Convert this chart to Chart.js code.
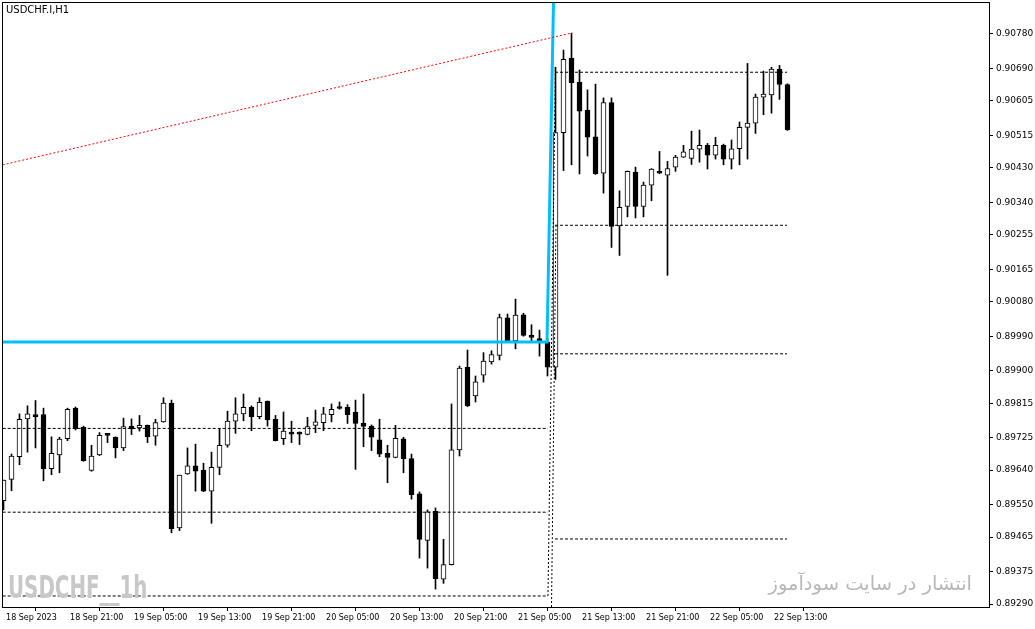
<!DOCTYPE html>
<html lang="en">
<head>
<meta charset="UTF-8">
<title>USDCHF.I,H1</title>
<script src="https://cdn.jsdelivr.net/npm/chart.js"></script>
<style>
  body { margin: 0; background: #fff; }
  #wrap { position: relative; width: 1035px; height: 629px; }
  .txt { position: absolute; white-space: nowrap; }
</style>
</head>
<body>
<div id="wrap">
  <canvas id="chart" width="1035" height="629"></canvas>
  <div class="txt" style="left:6px;top:4px;font:10px 'DejaVu Sans';color:#000">USDCHF.I,H1</div>
  <div class="txt" style="left:8px;top:568px;font:bold 32px 'DejaVu Sans';color:#c8c8c8;transform:scaleX(0.62);transform-origin:left top">USDCHF__1h</div>
  <div class="txt" dir="rtl" style="right:63px;top:572px;font:19.5px 'DejaVu Sans';color:#b8b8b8">انتشار در سایت سودآموز</div>
</div>
<script>
// hourly bars, 18 Sep 13:00 -> 22 Sep 15:00
const opens = [
  0.89560, 0.89616, 0.89675, 0.89774, 0.89785, 0.89785, 0.89644, 0.89680, 0.89722, 0.89802,
  0.89752, 0.89639, 0.89680, 0.89734, 0.89726, 0.89698, 0.89755, 0.89750, 0.89757, 0.89729,
  0.89766, 0.89815, 0.89489, 0.89630, 0.89651, 0.89640, 0.89585, 0.89647, 0.89705, 0.89768,
  0.89787, 0.89804, 0.89780, 0.89820, 0.89773, 0.89722, 0.89735, 0.89735, 0.89733, 0.89757,
  0.89764, 0.89785, 0.89804, 0.89804, 0.89792, 0.89762, 0.89755, 0.89719, 0.89684, 0.89673,
  0.89722, 0.89670, 0.89578, 0.89456, 0.89532, 0.89355, 0.89393, 0.89693, 0.89909, 0.89834,
  0.89888, 0.89923, 0.89940, 0.90038, 0.89978, 0.90046, 0.89992, 0.89984, 0.89975, 0.89909,
  0.90522, 0.90717, 0.90654, 0.90581, 0.90511, 0.90416, 0.90601, 0.90278, 0.90329, 0.90419,
  0.90329, 0.90385, 0.90421, 0.90411, 0.90432, 0.90458, 0.90455, 0.90479, 0.90489, 0.90463,
  0.90489, 0.90453, 0.90480, 0.90536, 0.90547, 0.90615, 0.90621, 0.90688, 0.90648
];
const highs = [
  0.89614, 0.89682, 0.89787, 0.89808, 0.89822, 0.89802, 0.89727, 0.89726, 0.89802, 0.89805,
  0.89755, 0.89705, 0.89738, 0.89735, 0.89727, 0.89776, 0.89774, 0.89783, 0.89758, 0.89773,
  0.89829, 0.89823, 0.89627, 0.89698, 0.89708, 0.89658, 0.89687, 0.89748, 0.89794, 0.89829,
  0.89839, 0.89808, 0.89829, 0.89821, 0.89783, 0.89792, 0.89768, 0.89740, 0.89778, 0.89797,
  0.89804, 0.89813, 0.89818, 0.89811, 0.89823, 0.89839, 0.89758, 0.89773, 0.89705, 0.89757,
  0.89726, 0.89682, 0.89583, 0.89536, 0.89541, 0.89459, 0.89813, 0.89912, 0.89954, 0.89886,
  0.89947, 0.89952, 0.90048, 0.90048, 0.90087, 0.90050, 0.90020, 0.90006, 0.89985, 0.90693,
  0.90738, 0.90782, 0.90686, 0.90634, 0.90649, 0.90613, 0.90613, 0.90370, 0.90422, 0.90432,
  0.90393, 0.90428, 0.90473, 0.90447, 0.90463, 0.90489, 0.90526, 0.90529, 0.90494, 0.90510,
  0.90492, 0.90503, 0.90550, 0.90703, 0.90623, 0.90683, 0.90693, 0.90698, 0.90650
];
const lows = [
  0.89536, 0.89586, 0.89654, 0.89687, 0.89698, 0.89612, 0.89628, 0.89633, 0.89717, 0.89745,
  0.89663, 0.89637, 0.89678, 0.89712, 0.89672, 0.89691, 0.89733, 0.89742, 0.89712, 0.89705,
  0.89765, 0.89476, 0.89482, 0.89629, 0.89585, 0.89584, 0.89501, 0.89628, 0.89700, 0.89736,
  0.89769, 0.89743, 0.89774, 0.89755, 0.89716, 0.89707, 0.89712, 0.89707, 0.89732, 0.89738,
  0.89743, 0.89766, 0.89799, 0.89762, 0.89642, 0.89701, 0.89691, 0.89675, 0.89607, 0.89672,
  0.89633, 0.89564, 0.89410, 0.89384, 0.89329, 0.89344, 0.89392, 0.89677, 0.89806, 0.89818,
  0.89870, 0.89917, 0.89928, 0.89977, 0.89957, 0.89990, 0.89978, 0.89938, 0.89886, 0.89877,
  0.90423, 0.90438, 0.90414, 0.90461, 0.90413, 0.90364, 0.90222, 0.90201, 0.90302, 0.90299,
  0.90302, 0.90344, 0.90415, 0.90149, 0.90421, 0.90457, 0.90439, 0.90445, 0.90427, 0.90453,
  0.90438, 0.90427, 0.90438, 0.90453, 0.90520, 0.90569, 0.90573, 0.90609, 0.90528
];
const closes = [
  0.89614, 0.89677, 0.89773, 0.89787, 0.89780, 0.89644, 0.89684, 0.89721, 0.89799, 0.89748,
  0.89665, 0.89677, 0.89731, 0.89731, 0.89698, 0.89754, 0.89748, 0.89757, 0.89727, 0.89764,
  0.89815, 0.89487, 0.89627, 0.89651, 0.89637, 0.89585, 0.89647, 0.89705, 0.89768, 0.89787,
  0.89804, 0.89780, 0.89817, 0.89771, 0.89717, 0.89742, 0.89734, 0.89734, 0.89754, 0.89766,
  0.89787, 0.89799, 0.89801, 0.89785, 0.89762, 0.89754, 0.89726, 0.89682, 0.89673, 0.89723,
  0.89670, 0.89576, 0.89459, 0.89531, 0.89356, 0.89393, 0.89693, 0.89907, 0.89808, 0.89871,
  0.89925, 0.89942, 0.90039, 0.89978, 0.90045, 0.89992, 0.89987, 0.89978, 0.89909, 0.90522,
  0.90714, 0.90653, 0.90578, 0.90510, 0.90414, 0.90601, 0.90277, 0.90327, 0.90421, 0.90329,
  0.90385, 0.90427, 0.90416, 0.90428, 0.90458, 0.90472, 0.90479, 0.90489, 0.90463, 0.90489,
  0.90453, 0.90480, 0.90536, 0.90547, 0.90615, 0.90623, 0.90688, 0.90648, 0.90529
];

const xTickIdx = [0, 8, 16, 24, 32, 40, 48, 56, 64, 72, 80, 88, 96];
const xTickLabels = ['18 Sep 2023', '18 Sep 21:00', '19 Sep 05:00', '19 Sep 13:00', '19 Sep 21:00',
  '20 Sep 05:00', '20 Sep 13:00', '20 Sep 21:00', '21 Sep 05:00', '21 Sep 13:00',
  '21 Sep 21:00', '22 Sep 05:00', '22 Sep 13:00'];
const yTicks = [0.90780, 0.90690, 0.90605, 0.90515, 0.90430, 0.90340, 0.90255, 0.90165, 0.90080,
  0.89990, 0.89900, 0.89815, 0.89725, 0.89640, 0.89550, 0.89465, 0.89375, 0.89290];

// drawn objects (bar index, price)
const leftLevels = [0.89749, 0.89530, 0.89311];
const rightLevels = [0.90680, 0.90280, 0.89944, 0.89460];
const redTrend = [[-0.1, 0.90438], [71.1, 0.90783]];
const cyanLine = [[-0.1, 0.89975], [67.94, 0.89975], [68.77, 0.90884]];
const fibA = [[68.06, 0.89311], [69.0, 0.90694]];
const fibB = [[68.5, 0.89282], [69.06, 0.90280]];

const idx = opens.map((o, i) => i);
const isUp = opens.map((o, i) => closes[i] >= o);

function seg(pts, color, width, dash) {
  return {
    type: 'line',
    data: pts.map(p => ({ x: p[0], y: p[1] })),
    borderColor: color,
    borderWidth: width,
    borderDash: dash,
    pointRadius: 0,
    fill: false,
    tension: 0,
    order: 0
  };
}

const lines = [];
leftLevels.forEach(v => lines.push(seg([[-0.1, v], [68.06, v]], '#000', 1, [3, 2])));
rightLevels.forEach(v => lines.push(seg([[68.94, v], [97.94, v]], '#000', 1, [3, 2])));
lines.push(seg(fibA, '#000', 1, [2, 2]));
lines.push(seg(fibB, '#000', 1, [2, 2]));
lines.push(seg(redTrend, '#ff0000', 1, [2, 2]));
lines.push(seg(cyanLine, '#00bfff', 3, []));

const frame = {
  id: 'frame',
  afterDraw(chart) {
    const a = chart.chartArea, ctx = chart.ctx;
    ctx.save();
    ctx.strokeStyle = '#000';
    ctx.lineWidth = 1;
    ctx.strokeRect(a.left - 0.5, a.top - 0.5, a.right - a.left + 1, a.bottom - a.top + 1);
    ctx.restore();
  }
};

new Chart(document.getElementById('chart'), {
  type: 'bar',
  data: {
    datasets: [
      {
        data: idx.map(i => ({ x: i, y: [lows[i], highs[i]] })),
        backgroundColor: '#000',
        barThickness: 1,
        minBarLength: 1,
        grouped: false,
        order: 2
      },
      {
        data: idx.map(i => ({ x: i, y: [opens[i], closes[i]] })),
        backgroundColor: isUp.map(u => u ? '#fff' : '#000'),
        borderColor: '#000',
        borderWidth: 1,
        borderSkipped: false,
        barThickness: 5,
        minBarLength: 2,
        grouped: false,
        order: 1
      },
      ...lines
    ]
  },
  options: {
    responsive: false,
    animation: false,
    devicePixelRatio: 1,
    layout: { padding: { left: 3, top: 3, right: 0, bottom: 0 } },
    plugins: { legend: { display: false }, tooltip: { enabled: false } },
    scales: {
      x: {
        type: 'linear',
        offset: false,
        min: -0.0625,
        max: 123.1875,
        afterBuildTicks: s => { s.ticks = xTickIdx.map(v => ({ value: v })); },
        afterFit: s => { s.height = 22; s.paddingLeft = 0; s.paddingRight = 0; },
        grid: { drawOnChartArea: false, drawTicks: true, tickLength: 4, color: '#000' },
        border: { display: false },
        ticks: {
          autoSkip: false,
          maxRotation: 0,
          align: 'start',
          padding: 2,
          color: '#000',
          font: { family: 'DejaVu Sans', size: 8 },
          callback: (v, i) => ' ' + xTickLabels[i]
        }
      },
      y: {
        position: 'right',
        min: 0.892822,
        max: 0.908610,
        afterBuildTicks: s => { s.ticks = yTicks.map(v => ({ value: v })); },
        afterFit: s => { s.width = 46; s.paddingTop = 0; s.paddingBottom = 0; },
        grid: { drawOnChartArea: false, drawTicks: true, tickLength: 4, color: '#000' },
        border: { display: false },
        ticks: {
          padding: 3,
          color: '#000',
          font: { family: 'DejaVu Sans', size: 9 },
          callback: v => v.toFixed(5)
        }
      }
    }
  },
  plugins: [frame]
});
</script>
</body>
</html>
